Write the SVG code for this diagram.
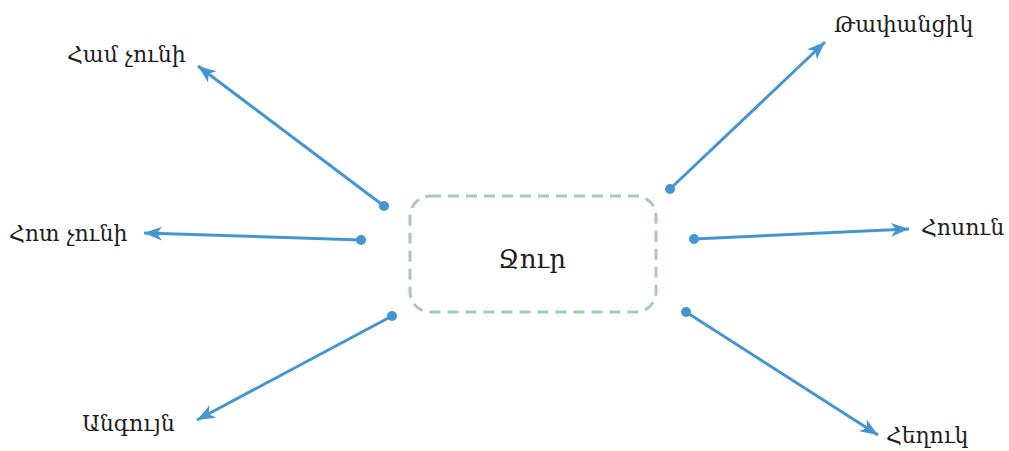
<svg xmlns="http://www.w3.org/2000/svg" width="1009" height="451" viewBox="0 0 1009 451">
<style>
.lbl{font-family:"DejaVu Serif","Noto Serif","Liberation Serif",serif;font-size:22px;fill:#1e1e1e}
.big{font-size:26px}
.edge{stroke:#4396d2;stroke-width:3;fill:none}
.dot{fill:#4396d2}
</style>
<defs>
<marker id="arr" markerUnits="userSpaceOnUse" markerWidth="20" markerHeight="16" viewBox="0 0 20 16" refX="18" refY="8" orient="auto">
<path d="M0,1 L18,8 L0,15 L5,8 z" fill="#4396d2"/>
</marker>
</defs>
<rect width="1009" height="451" fill="#fff"/>
<g id="center">
<rect x="410" y="196" width="246" height="116" rx="20" ry="20" fill="none" stroke="#a6cfa8" stroke-width="3" stroke-dasharray="11,7"/>
<text class="lbl big" x="532" y="268" text-anchor="middle">Ջուր</text>
</g>
<g id="connectors">
<line class="edge" x1="384" y1="206" x2="198" y2="66" marker-end="url(#arr)"/>
<circle class="dot" cx="384" cy="206" r="5"/>
<line class="edge" x1="361" y1="240" x2="144" y2="233" marker-end="url(#arr)"/>
<circle class="dot" cx="361" cy="240" r="5"/>
<line class="edge" x1="392" y1="316" x2="197" y2="420" marker-end="url(#arr)"/>
<circle class="dot" cx="392" cy="316" r="5"/>
<line class="edge" x1="670" y1="189" x2="825" y2="42" marker-end="url(#arr)"/>
<circle class="dot" cx="670" cy="189" r="5"/>
<line class="edge" x1="694" y1="239" x2="909" y2="229" marker-end="url(#arr)"/>
<circle class="dot" cx="694" cy="239" r="5"/>
<line class="edge" x1="686" y1="312" x2="878" y2="435" marker-end="url(#arr)"/>
<circle class="dot" cx="686" cy="312" r="5"/>
</g>
<g id="n1"><text class="lbl" x="67" y="62">Համ չունի</text></g>
<g id="n2"><text class="lbl" x="9" y="241">Հոտ չունի</text></g>
<g id="n3"><text class="lbl" x="82" y="431">Անգույն</text></g>
<g id="n4"><text class="lbl" x="834" y="32">Թափանցիկ</text></g>
<g id="n5"><text class="lbl" x="921" y="235">Հոսուն</text></g>
<g id="n6"><text class="lbl" x="886" y="443">Հեղուկ</text></g>
</svg>
